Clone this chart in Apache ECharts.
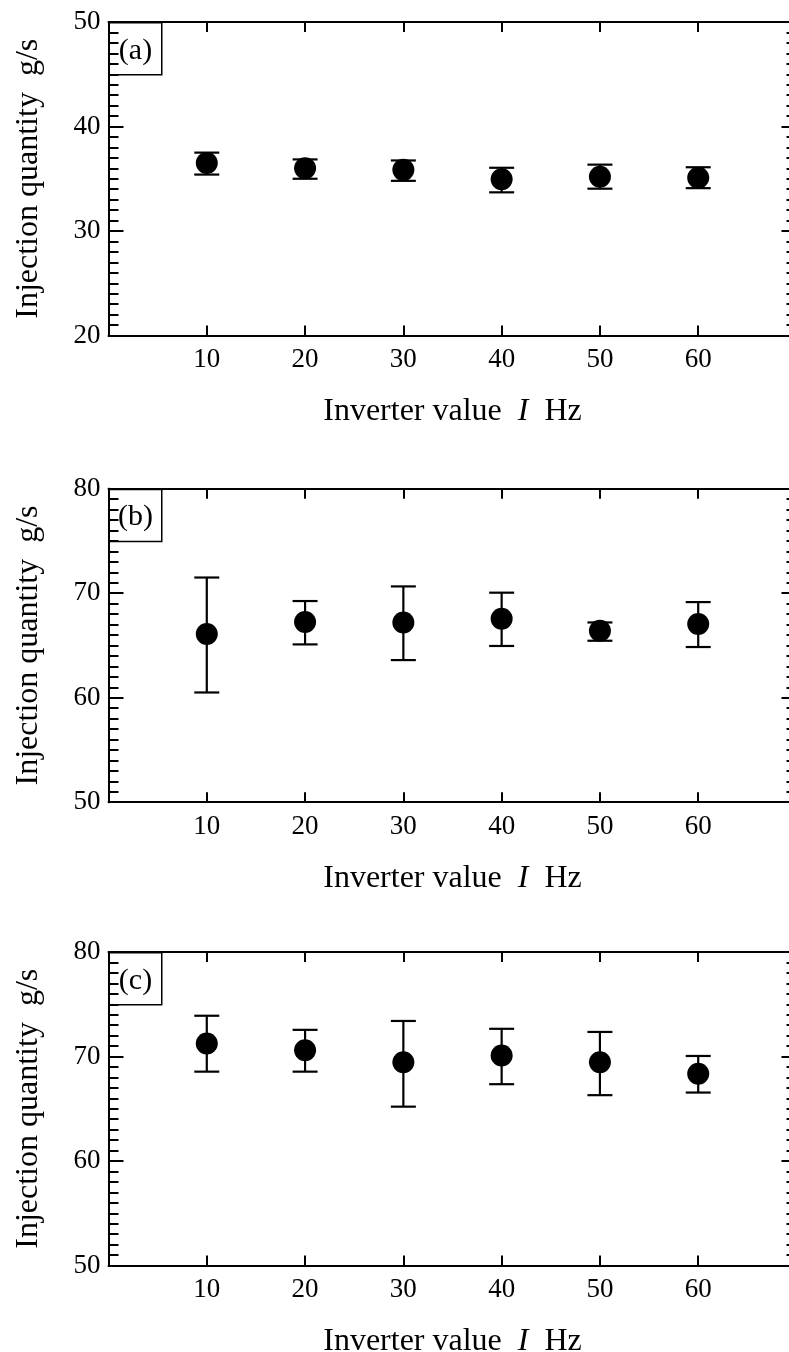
<!DOCTYPE html>
<html>
<head>
<meta charset="utf-8">
<script src="https://cdn.jsdelivr.net/npm/echarts@6/dist/echarts.min.js"></script>
<style>
  html, body { margin: 0; padding: 0; background: #fff; }
  #chart { width: 789px; height: 1352px; }
</style>
</head>
<body>
<div id="chart"></div>
<script>
  // Data
  var freq = [10, 20, 30, 40, 50, 60];

  var meanA = [36.5, 36.0, 35.85, 34.95, 35.2, 35.1];
  var lowA = [35.4, 35.0, 34.8, 33.7, 34.05, 34.1];
  var highA = [37.5, 36.85, 36.75, 36.05, 36.35, 36.1];

  var meanB = [66.1, 67.25, 67.2, 67.55, 66.4, 67.05];
  var lowB = [60.5, 65.1, 63.6, 64.95, 65.45, 64.85];
  var highB = [71.5, 69.25, 70.65, 70.05, 67.2, 69.15];

  var meanC = [71.25, 70.6, 69.45, 70.1, 69.45, 68.35];
  var lowC = [68.55, 68.55, 65.2, 67.35, 66.3, 66.55];
  var highC = [73.9, 72.55, 73.4, 72.65, 72.35, 70.05];

  var panelLabels = ['(a)', '(b)', '(c)'];
  var yMins = [20, 50, 50];
  var yMaxs = [50, 80, 80];
  var xMin = 0, xMax = 70;

  var FONT = '"Liberation Serif", "Times New Roman", serif';
  var panels = [
    { mean: meanA, low: lowA, high: highA, top: 22 },
    { mean: meanB, low: lowB, high: highB, top: 488.7 },
    { mean: meanC, low: lowC, high: highC, top: 952 }
  ];
  var gridLeft = 108.5, gridWidth = 688, gridHeight = 313.5;
  var black = { color: '#000', width: 2 };

  var grids = [], xAxes = [], yAxes = [], series = [], graphics = [];

  function addGrid(p) {
    grids.push({ left: gridLeft, top: p.top, width: gridWidth, height: gridHeight,
                 containLabel: false, outerBoundsMode: 'none' });
    return grids.length - 1;
  }

  panels.forEach(function (p, i) {
    var g = addGrid(p);

    // bottom axis with labels
    xAxes.push({
      gridIndex: g, type: 'value', min: xMin, max: xMax, interval: 10,
      position: 'bottom',
      name: '{n|Inverter value  }{i|I}{n|  Hz}',
      nameLocation: 'middle', nameGap: 60,
      nameTextStyle: {
        rich: {
          n: { fontFamily: FONT, fontSize: 32, color: '#000' },
          i: { fontFamily: FONT, fontSize: 32, color: '#000', fontStyle: 'italic' }
        }
      },
      axisLine: { show: true, lineStyle: black },
      axisTick: { show: true, inside: true, length: 10, lineStyle: black },
      axisLabel: {
        fontFamily: FONT, fontSize: 27, color: '#000', margin: 11,
        formatter: function (v) { return (v === xMin || v === xMax) ? '' : String(v); }
      },
      splitLine: { show: false }
    });
    // top axis, ticks only
    xAxes.push({
      gridIndex: g, type: 'value', min: xMin, max: xMax, interval: 10,
      position: 'top',
      axisLine: { show: true, lineStyle: black },
      axisTick: { show: true, inside: true, length: 10, lineStyle: black },
      axisLabel: { show: false },
      splitLine: { show: false }
    });

    // left/right axes: lines and labels only, ticks come from overlays
    yAxes.push({
      gridIndex: g, type: 'value', min: yMins[i], max: yMaxs[i], interval: 10,
      position: 'left',
      name: 'Injection quantity  g/s',
      nameLocation: 'middle', nameGap: 64,
      nameTextStyle: { fontFamily: FONT, fontSize: 32, color: '#000' },
      axisLine: { show: true, lineStyle: black },
      axisTick: { show: false },
      axisLabel: { fontFamily: FONT, fontSize: 27, color: '#000', margin: 8 },
      splitLine: { show: false }
    });
    yAxes.push({
      gridIndex: g, type: 'value', min: yMins[i], max: yMaxs[i], interval: 10,
      position: 'right',
      axisLine: { show: true, lineStyle: black },
      axisTick: { show: false },
      axisLabel: { show: false },
      splitLine: { show: false }
    });

    var errData = freq.map(function (f, k) { return [f, p.low[k], p.high[k]]; });
    var ptData = freq.map(function (f, k) { return [f, p.mean[k]]; });

    series.push({
      type: 'custom',
      xAxisIndex: xAxes.length - 2, yAxisIndex: yAxes.length - 2,
      data: errData,
      encode: { x: 0, y: [1, 2] },
      renderItem: function (params, api) {
        var lo = api.coord([api.value(0), api.value(1)]);
        var hi = api.coord([api.value(0), api.value(2)]);
        var hw = 12.5;
        var st = { stroke: '#000', lineWidth: 2.2 };
        return {
          type: 'group',
          children: [
            { type: 'line', shape: { x1: lo[0], y1: lo[1], x2: hi[0], y2: hi[1] }, style: st },
            { type: 'line', shape: { x1: lo[0] - hw, y1: lo[1], x2: lo[0] + hw, y2: lo[1] }, style: st },
            { type: 'line', shape: { x1: hi[0] - hw, y1: hi[1], x2: hi[0] + hw, y2: hi[1] }, style: st }
          ]
        };
      },
      silent: true, animation: false
    });
    series.push({
      type: 'scatter',
      xAxisIndex: xAxes.length - 2, yAxisIndex: yAxes.length - 2,
      data: ptData,
      symbol: 'circle', symbolSize: 22,
      itemStyle: { color: '#000', opacity: 1 },
      silent: true, animation: false
    });

    // overlay grids for the y ticks: every 1 unit (short) and every 10 (long)
    [[1, 10], [10, 15]].forEach(function (t) {
      var og = addGrid(p);
      xAxes.push({ gridIndex: og, type: 'value', min: xMin, max: xMax, show: false });
      ['left', 'right'].forEach(function (pos) {
        yAxes.push({
          gridIndex: og, type: 'value', min: yMins[i], max: yMaxs[i], interval: t[0],
          position: pos,
          axisLine: { show: false },
          axisTick: { show: true, inside: true, length: t[1], lineStyle: black },
          axisLabel: { show: false },
          splitLine: { show: false }
        });
      });
    });

    // panel tag box
    graphics.push({
      type: 'group', left: gridLeft, top: p.top, z: 100,
      children: [
        { type: 'rect', shape: { x: 0, y: 0, width: 52.5, height: 52 },
          style: { fill: '#fff', stroke: '#000', lineWidth: 1.5 } },
        { type: 'text', x: 26.25, y: 28,
          style: { text: panelLabels[i], font: '30px ' + FONT, fill: '#000',
                   align: 'center', verticalAlign: 'middle' } }
      ]
    });
  });

  var chart = echarts.init(document.getElementById('chart'), null, { renderer: 'canvas' });
  chart.setOption({
    animation: false,
    backgroundColor: '#fff',
    grid: grids,
    xAxis: xAxes,
    yAxis: yAxes,
    series: series,
    graphic: graphics
  });
</script>
</body>
</html>
